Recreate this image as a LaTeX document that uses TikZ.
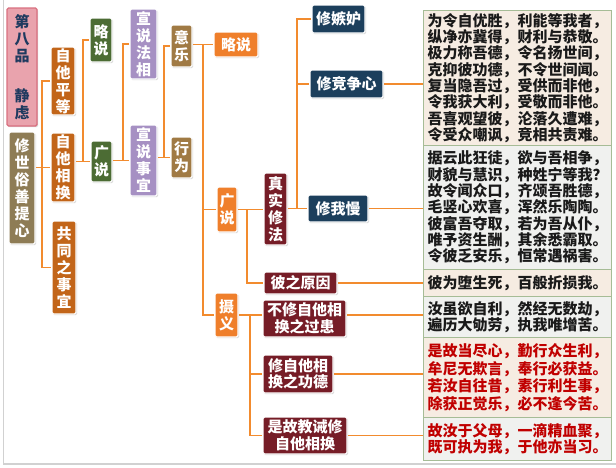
\documentclass[tikz,border=0pt]{standalone}
\usepackage{fontspec}
\newfontfamily\cjk{Noto Sans CJK SC}
\usetikzlibrary{shadows,backgrounds}

\definecolor{pinkfill}{HTML}{E9A3AD}
\definecolor{pinkline}{HTML}{D9707F}
\definecolor{navytext}{HTML}{1F3A5F}
\definecolor{olive}{HTML}{8E7C55}
\definecolor{rust}{HTML}{C26519}
\definecolor{moss}{HTML}{4C6C34}
\definecolor{lilac}{HTML}{A690C3}
\definecolor{tan}{HTML}{A07A44}
\definecolor{tangerine}{HTML}{EF7F2B}
\definecolor{navy}{HTML}{1C3F5C}
\definecolor{maroon}{HTML}{761D27}
\definecolor{linkorange}{HTML}{F28B2E}
\definecolor{verseline}{HTML}{A6BC96}
\definecolor{versebeige}{HTML}{F6ECE2}
\definecolor{versegray}{HTML}{F0F1EF}
\definecolor{versered}{HTML}{C00000}
\definecolor{versetext}{HTML}{1A1A1A}

\begin{document}
\begin{tikzpicture}[x=1pt,y=-1pt,
  link/.style={draw=linkorange,line width=1.8pt},
  tag/.style={fill=#1,draw=white,line width=1.2pt,rounded corners=1.5pt,
    drop shadow={shadow xshift=1.2pt,shadow yshift=-1.2pt,opacity=0.3},
    text=white,align=center,inner sep=0pt,
    font=\cjk\bfseries\fontsize{15}{17}\selectfont},
  verse/.style={fill=#1,draw=verseline,line width=1pt,anchor=north west,
    minimum width=188pt,align=left,inner sep=0pt,text=versetext,
    font=\cjk\bfseries\fontsize{15}{16.3}\selectfont}]
\useasboundingbox (0,0) rectangle (616,467);
\draw[black!18,line width=1.5pt] (3.5,0) |- (616,464);

% left columns
\node[tag=pinkfill,draw=pinkline,text=navytext,minimum width=30pt,minimum height=118pt] (chapter) at (22,67) {第\\八\\品\\[23pt]静\\虑};
\node[tag=olive,minimum width=26pt,minimum height=112pt] (root) at (22,188) {修\\世\\俗\\善\\提\\心};
\node[tag=rust,minimum width=24pt,minimum height=68pt] (pingdeng) at (63,81) {自\\他\\平\\等};
\node[tag=rust,minimum width=24pt,minimum height=69pt] (xianghuan) at (63,167.5) {自\\他\\相\\换};
\node[tag=rust,minimum width=24pt,minimum height=93pt] (gongtong) at (64,267.5) {共\\同\\之\\事\\宜};
\node[tag=moss,minimum width=22pt,minimum height=44pt] (lue) at (101,40) {略\\说};
\node[tag=moss,minimum width=21pt,minimum height=41pt] (guang) at (101.5,161.5) {广\\说};
\node[tag=lilac,minimum width=27pt,minimum height=70pt] (faxiang) at (143.5,44) {宣\\说\\法\\相};
\node[tag=lilac,minimum width=27pt,minimum height=71pt] (shiyi) at (143.5,160.5) {宣\\说\\事\\宜};
\node[tag=tan,minimum width=21pt,minimum height=42pt] (yile) at (181.5,46) {意\\乐};
\node[tag=tan,minimum width=21pt,minimum height=41pt] (xingwei) at (181.5,157.5) {行\\为};

% middle columns
\node[tag=tangerine,minimum width=44pt,minimum height=25pt] (lueB) at (236,44.5) {略说};
\node[tag=tangerine,minimum width=20pt,minimum height=45pt] (guangB) at (227,209.5) {广\\说};
\node[tag=tangerine,minimum width=23pt,minimum height=44pt] (sheyi) at (226.5,315) {摄\\义};
\node[tag=maroon,minimum width=23pt,minimum height=72pt] (zhenshi) at (275.5,209) {真\\实\\修\\法};
\node[tag=maroon,minimum width=73pt,minimum height=22pt] (yuanyin) at (300.5,283) {彼之原因};
\node[tag=maroon,minimum width=83pt,minimum height=37pt,font=\cjk\bfseries\fontsize{15}{16.5}\selectfont] (guohuan) at (304.5,318.5) {不修自他相\\换之过患};
\node[tag=maroon,minimum width=70pt,minimum height=38pt,font=\cjk\bfseries\fontsize{15}{16.5}\selectfont] (gongde) at (298,374) {修自他相\\换之功德};
\node[tag=maroon,minimum width=84pt,minimum height=37pt,font=\cjk\bfseries\fontsize{15}{16.5}\selectfont] (jiaojie) at (305,435.5) {是故教诫修\\自他相换};
\node[tag=navy,minimum width=53pt,minimum height=28pt] (jidu) at (338.5,19) {修嫉妒};
\node[tag=navy,minimum width=73pt,minimum height=28pt] (jingzheng) at (346.5,84) {修竞争心};
\node[tag=navy,minimum width=60pt,minimum height=27pt] (woman) at (338,208.5) {修我慢};

% verses
\node[verse=versebeige,minimum height=135pt] (verseA) at (423,10) {为令自优胜，利能等我者，\\纵净亦冀得，财利与恭敬。\\极力称吾德，令名扬世间，\\克抑彼功德，不令世间闻。\\复当隐吾过，受供而非他，\\令我获大利，受敬而非他。\\吾喜观望彼，沦落久遭难，\\令受众嘲讽，竞相共责难。};
\node[verse=versegray,minimum height=124pt] (verseB) at (423,145) {据云此狂徒，欲与吾相争，\\财貌与慧识，种姓宁等我？\\故令闻众口，齐颂吾胜德，\\毛竖心欢喜，浑然乐陶陶。\\彼富吾夺取，若为吾从仆，\\唯予资生酬，其余悉霸取。\\令彼乏安乐，恒常遇祸害。};
\node[verse=versebeige,minimum height=27pt] (verseC) at (423,269) {彼为堕生死，百般折损我。};
\node[verse=versegray,minimum height=41pt] (verseD) at (423,296) {汝虽欲自利，然经无数劫，\\遍历大劬劳，执我唯增苦。};
\node[verse=versebeige,minimum height=80pt,text=versered,font=\cjk\bfseries\fontsize{15}{17.5}\selectfont] (verseE) at (423,337) {是故当尽心，勤行众生利，\\牟尼无欺言，奉行必获益。\\若汝自往昔，素行利生事，\\除获正觉乐，必不逢今苦。};
\node[verse=versegray,minimum height=43pt,text=versered] (verseF) at (423,417) {故汝于父母，一滴精血聚，\\既可执为我，于他亦当习。};

\begin{scope}[on background layer]
\coordinate (busA) at (42,0);
\coordinate (busB) at (83,0);
\coordinate (busC) at (123,0);
\coordinate (busD) at (164,0);
\coordinate (busE) at (203,0);
\coordinate (busF) at (247,0);
\coordinate (busG) at (297,0);
\coordinate (busH) at (250,0);
\draw[link] (root.east |- xianghuan.west) -- (xianghuan.west);
\draw[link] (pingdeng.west) -| (busA |- xianghuan.west) |- (gongtong.west);
\draw[link] (xianghuan.east |- guang.west) -- (guang.west);
\draw[link] (lue.west) -| (busB |- guang.west);
\draw[link] (guang.east |- shiyi.west) -- (shiyi.west);
\draw[link] (faxiang.west) -| (busC |- shiyi.west);
\draw[link] (shiyi.east |- xingwei.west) -- (xingwei.west);
\draw[link] (yile.west) -| (busD |- xingwei.west);
\draw[link] (yile.east |- lueB.west) -- (lueB.west);
\draw[link] (busE |- lueB.west) |- (sheyi.west);
\draw[link] (busE |- guangB.west) -- (guangB.west);
\draw[link] (guangB.east) -- (guangB.east -| zhenshi.west);
\draw[link] (busF |- guangB.east) |- (yuanyin.west);
\draw[link] (zhenshi.east |- woman.west) -- (woman.west);
\draw[link] (busG |- woman.west) |- (jidu.west);
\draw[link] (busG |- jingzheng.west) -- (jingzheng.west);
\draw[link] (sheyi.east) -- (sheyi.east -| guohuan.west);
\draw[link] (busH |- sheyi.east) |- (jiaojie.west);
\draw[link] (busH |- gongde.west) -- (gongde.west);
% leaves to verses
\draw[link] (jingzheng.east) -- (jingzheng.east -| verseA.west);
\draw[link] (woman.east) -- (woman.east -| verseB.west);
\draw[link] (yuanyin.east) -- (yuanyin.east -| verseC.west);
\draw[link] (guohuan.east |- sheyi.east) -- (sheyi.east -| verseD.west);
\draw[link] (gongde.east) -- (gongde.east -| verseE.west);
\draw[link] (jiaojie.east) -- (jiaojie.east -| verseF.west);
\end{scope}
\end{tikzpicture}
\end{document}
